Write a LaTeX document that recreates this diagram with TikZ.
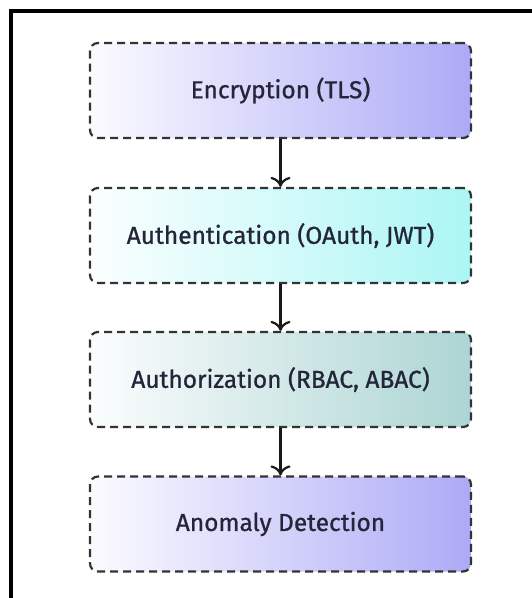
\documentclass[tikz,border=0pt]{standalone}
\usepackage{fontspec}
\setmainfont{Fira Sans}[FakeBold=0.9]
\usetikzlibrary{arrows.meta}
\definecolor{lav}{HTML}{ADAAF6}
\definecolor{cyanish}{HTML}{ABF6F4}
\definecolor{tealish}{HTML}{ACD5D3}
\definecolor{edge}{HTML}{333333}
\definecolor{ink}{HTML}{25253A}
\tikzset{
  stagebox/.style={draw=edge, line width=2.2pt, dash pattern=on 8pt off 5pt,
    rounded corners=8pt, minimum width=381pt, minimum height=95pt,
    font=\fontsize{24.5}{28}\selectfont, text=ink},
  flowarrow/.style={draw=black!90, line width=2.2pt, -{To[length=10pt,width=20pt,line width=2.2pt]}}
}
\begin{document}
\begin{tikzpicture}[x=1pt,y=-1pt]
\useasboundingbox (0,0) rectangle (531,598);
\fill[white] (0,0) rectangle (531,598);
\draw[line width=4pt] (11,620) -- (11,11) -- (560,11);
\node[stagebox, left color=lav!5, right color=lav] (enc) at (280.5,90.5) {Encryption (TLS)};
\node[stagebox, left color=cyanish!5, right color=cyanish] (auth) at (280.5,235.5) {Authentication (OAuth, JWT)};
\node[stagebox, left color=tealish!5, right color=tealish] (authz) at (280.5,379.5) {Authorization (RBAC, ABAC)};
\node[stagebox, left color=lav!5, right color=lav] (anom) at (280.5,524) {Anomaly Detection};
\draw[flowarrow] (enc.south) -- (auth.north);
\draw[flowarrow] (auth.south) -- (authz.north);
\draw[flowarrow] (authz.south) -- (anom.north);
\end{tikzpicture}
\end{document}
